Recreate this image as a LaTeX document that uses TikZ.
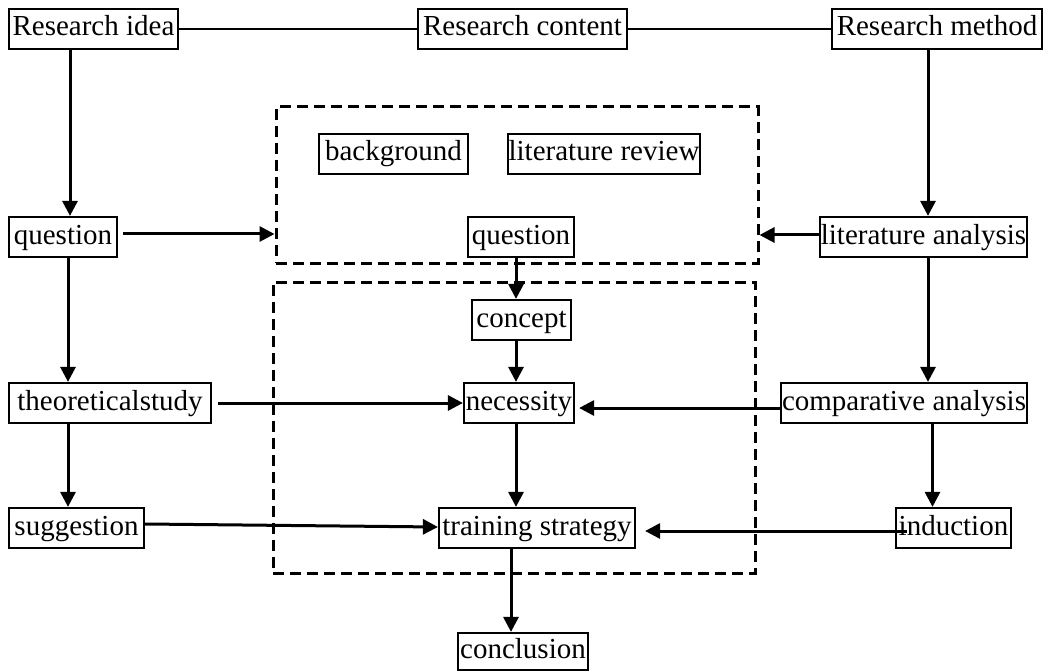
\documentclass[tikz,border=0pt]{standalone}
\usepackage{fontspec}
\setmainfont{Liberation Serif}
\usetikzlibrary{arrows.meta}
\begin{document}
\begin{tikzpicture}[x=1pt,y=-1pt,
  box/.style={draw, line width=2.2pt, inner sep=0pt, minimum height=40pt,
    font=\fontsize{29}{32}\selectfont, text height=20pt, text depth=6pt},
  dbox/.style={draw, line width=3pt, dash pattern=on 11pt off 6pt, inner sep=0pt},
  arr/.style={line width=3pt, -{Triangle[length=15pt,width=15pt]}},
  thin/.style={line width=1.2pt}]
\useasboundingbox (0,0) rectangle (1052,671);
% dashed groups
\node[dbox, minimum width=482pt, minimum height=156pt] (db1) at (517,185) {};
\node[dbox, minimum width=482pt, minimum height=291pt] (db2) at (514,427.5) {};
% top row
\node[box, minimum width=169pt] (ri) at (93.5,29) {Research idea};
\node[box, minimum width=209pt] (rc) at (522.5,29) {Research content};
\node[box, minimum width=210pt] (rm) at (937,29) {Research method};
% inner top group
\node[box, minimum width=149pt] (bg) at (393.5,154) {background};
\node[box, minimum width=192pt] (lr) at (604,154) {literature review};
\node[box, minimum width=106pt] (q2) at (521,237) {question};
% left column
\node[box, minimum width=108pt] (q1) at (63,237) {question};
\node[box, minimum width=202pt] (ts) at (110,403) {theoreticalstudy};
\node[box, minimum width=135pt] (sug) at (76.5,528) {suggestion};
% right column
\node[box, minimum width=207pt] (la) at (923.5,237) {literature analysis};
\node[box, minimum width=246pt] (ca) at (904,403) {comparative analysis};
\node[box, minimum width=115pt] (ind) at (953.5,528) {induction};
% center column
\node[box, minimum width=99pt] (con) at (521.5,320) {concept};
\node[box, minimum width=110pt] (nec) at (519,403) {necessity};
\node[box, minimum width=196pt] (tr) at (537,528) {training strategy};
\node[box, minimum width=130pt, minimum height=37pt] (cl) at (523,651.5) {conclusion};
% top thin connectors
\draw[thin] (ri.east) -- (rc.west);
\draw[thin] (rc.east) -- (rm.west);
% left column arrows
\draw[arr] ([xshift=7pt]q1.north |- ri.south) -- ([xshift=7pt]q1.north);
\draw[arr] ([xshift=5pt]q1.south) -- ([xshift=5pt]q1.south |- ts.north);
\draw[arr] ([xshift=-8.5pt]sug.north |- ts.south) -- ([xshift=-8.5pt]sug.north);
% right column arrows
\draw[arr] ([xshift=4.5pt]la.north |- rm.south) -- ([xshift=4.5pt]la.north);
\draw[arr] ([xshift=4.5pt]la.south) -- ([xshift=4.5pt]la.south |- ca.north);
\draw[arr] ([xshift=-21pt]ind.north |- ca.south) -- ([xshift=-21pt]ind.north);
% center column arrows
\draw[arr] ([xshift=-5pt]q2.south) -- ([xshift=-5pt]q2.south |- con.north);
\draw[arr] ([xshift=-5.5pt]con.south) -- ([xshift=-5.5pt]con.south |- nec.north);
\draw[arr] ([xshift=-3pt]nec.south) -- ([xshift=-3pt]nec.south |- tr.north);
\draw[arr] ([xshift=-26pt]tr.south) -- ([xshift=-26pt]tr.south |- cl.north);
% horizontal arrows
\draw[arr, shorten <=5pt] ([yshift=3pt]q1.east) -- ([yshift=3pt]q1.east -| db1.west);
\draw[arr] ([yshift=2pt]la.west) -- ([yshift=2pt]la.west -| db1.east);
\draw[arr, shorten <=6pt] (ts.east) -- (nec.west);
\draw[arr] ([yshift=4pt]sug.east) -- ([yshift=1pt]tr.west);
\draw[arr, shorten >=4pt] ([yshift=-5pt]ca.west) -- ([yshift=-5pt]nec.east);
\draw[arr, shorten <=-12pt, shorten >=9pt] ([yshift=-3pt]ind.west) -- ([yshift=-3pt]tr.east);
\end{tikzpicture}
\end{document}
